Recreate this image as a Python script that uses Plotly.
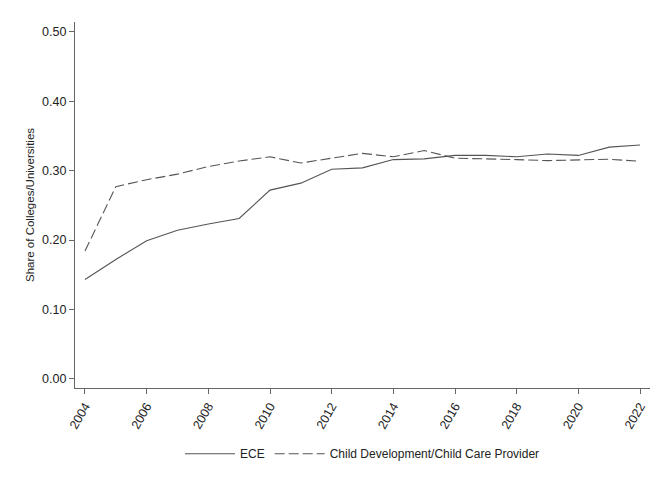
import plotly.graph_objects as go

years = list(range(2004, 2023))
ece = [0.143, 0.172, 0.199, 0.214, 0.223, 0.231, 0.272, 0.282, 0.302, 0.304,
       0.316, 0.317, 0.322, 0.322, 0.320, 0.324, 0.322, 0.334, 0.337]
child_dev = [0.184, 0.277, 0.287, 0.295, 0.306, 0.314, 0.320, 0.311, 0.318, 0.325,
             0.320, 0.329, 0.318, 0.3175, 0.316, 0.3145, 0.315, 0.3165, 0.3135]
x_ticks = list(range(2004, 2023, 2))
y_ticks = [0.0, 0.1, 0.2, 0.3, 0.4, 0.5]

fig = go.Figure()
fig.add_trace(go.Scatter(x=years, y=ece, mode="lines", name="ECE",
                         line=dict(color="#555555", width=1.1)))
fig.add_trace(go.Scatter(x=years, y=child_dev, mode="lines",
                         name="Child Development/Child Care Provider",
                         line=dict(color="#555555", width=1.1, dash="10px,4px")))

fig.update_layout(
    width=658, height=485,
    margin=dict(l=67, r=16, t=14, b=105),
    paper_bgcolor="white", plot_bgcolor="white",
    font=dict(family="Liberation Sans, Arial, sans-serif", size=12, color="#222222"),
    showlegend=True,
    legend=dict(orientation="h", x=0.5, xanchor="center", y=-0.14, yanchor="top",
                font=dict(size=12), itemwidth=50, bgcolor="rgba(0,0,0,0)"),
    xaxis=dict(range=[2003.676, 2022.324], tickmode="array", tickvals=x_ticks,
               ticktext=[str(v) for v in x_ticks], tickangle=-60, automargin=False,
               showline=True, linecolor="#666666", linewidth=1.3,
               ticks="outside", ticklen=5, tickcolor="#666666",
               showgrid=False, zeroline=False, tickfont=dict(size=12.5)),
    yaxis=dict(range=[-0.0134, 0.5144], tickmode="array", tickvals=y_ticks,
               ticktext=[f"{v:.2f}" for v in y_ticks], automargin=False,
               showline=True, linecolor="#666666", linewidth=1.3,
               ticks="outside", ticklen=5, tickcolor="#666666",
               showgrid=False, zeroline=False, tickfont=dict(size=12.5),
               title=dict(text="Share of Colleges/Universities", font=dict(size=11.5), standoff=4)),
)

fig.write_html("out.html")
